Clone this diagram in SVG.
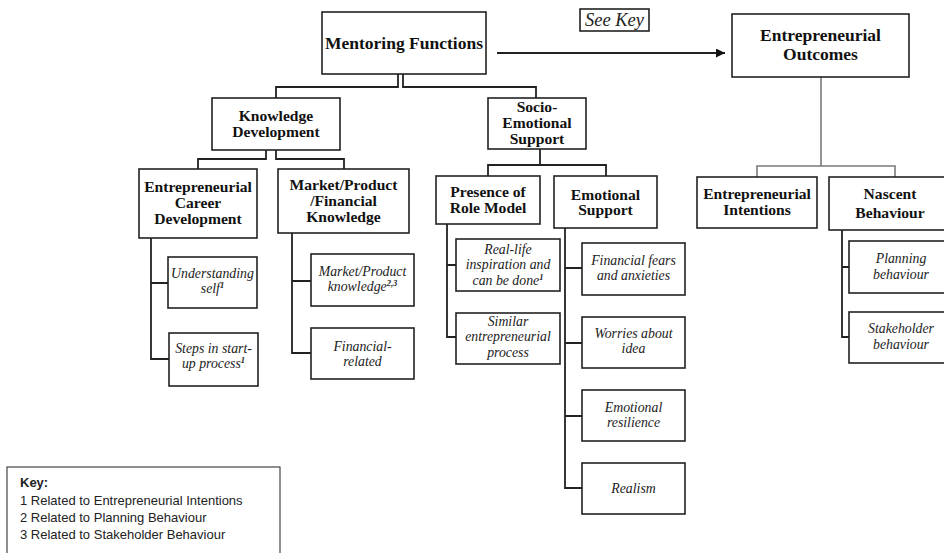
<svg xmlns="http://www.w3.org/2000/svg" width="944" height="553" viewBox="0 0 944 553">
<style>
  .box { fill: #fff; stroke: #222; stroke-width: 1.6; }
  .conn { fill: none; stroke: #222; stroke-width: 1.8; }
  .gray { fill: none; stroke: #7a7a7a; stroke-width: 1.6; }
  .t1 { font-family: "Liberation Serif", "Times New Roman", serif; font-weight: bold; font-size: 17.5px; text-anchor: middle; fill: #111; }
  .t2 { font-family: "Liberation Serif", "Times New Roman", serif; font-weight: bold; font-size: 15.6px; text-anchor: middle; fill: #111; }
  .ti { font-family: "Liberation Serif", "Times New Roman", serif; font-style: italic; font-size: 13.8px; text-anchor: middle; fill: #222; }
  .sup { font-size: 8.5px; font-weight: bold; }
  .key { font-family: "Liberation Sans", Arial, sans-serif; font-size: 13px; fill: #222; }
</style>
<defs>
  <marker id="ah" viewBox="0 0 10 10" refX="10" refY="5" markerWidth="11" markerHeight="9" markerUnits="userSpaceOnUse" orient="auto">
    <path d="M0,0 L10,5 L0,10 z" fill="#111"/>
  </marker>
</defs>

<g id="connectors">
  <path class="conn" d="M398,74 V87 H276 V98"/>
  <path class="conn" d="M403,74 V87 H536 V98"/>
  <path class="conn" d="M266,150 V159 H198 V169"/>
  <path class="conn" d="M276,150 V159 H344 V169"/>
  <path class="conn" d="M540,149 V165 M488,176 V165 H606 V176"/>
  <path class="conn" d="M151,238 V359 H169 M151,283 H168"/>
  <path class="conn" d="M292,233 V353 H311 M292,281 H311"/>
  <path class="conn" d="M447,224 V337 H456 M447,265 H456"/>
  <path class="conn" d="M565,228 V488 H582 M565,268 H582 M565,343 H582 M565,416 H582"/>
  <path class="gray" d="M821,77 V166 M757,177 V166 H895 V177"/>
  <path class="conn" d="M842,230 V337 H849 M842,267 H849"/>
  <path class="conn" d="M497,53 H725" marker-end="url(#ah)"/>
</g>

<g id="see-key">
  <rect class="box" x="580" y="9" width="69" height="22" stroke-width="1.2"/>
  <text x="614.5" y="26" font-family="Liberation Serif, serif" font-style="italic" font-size="18.5" text-anchor="middle" fill="#222">See Key</text>
</g>

<g id="mentoring-functions">
  <rect class="box" x="322" y="12" width="164" height="62"/>
  <text class="t1" x="404" y="49">Mentoring Functions</text>
</g>

<g id="entrepreneurial-outcomes">
  <rect class="box" x="732" y="14" width="177" height="63"/>
  <text class="t1" x="820.5" y="41" font-size="16.8">Entrepreneurial</text>
  <text class="t1" x="820.5" y="59.8" font-size="16.8">Outcomes</text>
</g>

<g id="knowledge-development">
  <rect class="box" x="212" y="98" width="128" height="52"/>
  <text class="t2" x="276" y="120.5">Knowledge</text>
  <text class="t2" x="276" y="136.5">Development</text>
</g>

<g id="socio-emotional-support">
  <rect class="box" x="488" y="98" width="98" height="51"/>
  <text class="t2" x="537" y="111.5">Socio-</text>
  <text class="t2" x="537" y="128">Emotional</text>
  <text class="t2" x="537" y="144">Support</text>
</g>

<g id="entrepreneurial-career-development">
  <rect class="box" x="139" y="169" width="118" height="69"/>
  <text class="t2" x="198" y="192">Entrepreneurial</text>
  <text class="t2" x="198" y="208">Career</text>
  <text class="t2" x="198" y="224">Development</text>
</g>

<g id="market-product-financial-knowledge">
  <rect class="box" x="278" y="169" width="131" height="64"/>
  <text class="t2" x="343.5" y="190">Market/Product</text>
  <text class="t2" x="343.5" y="206">/Financial</text>
  <text class="t2" x="343.5" y="221.5">Knowledge</text>
</g>

<g id="presence-of-role-model">
  <rect class="box" x="436" y="176" width="104" height="48"/>
  <text class="t2" x="488" y="197">Presence of</text>
  <text class="t2" x="488" y="213">Role Model</text>
</g>

<g id="emotional-support">
  <rect class="box" x="554" y="176" width="103" height="52"/>
  <text class="t2" x="605.5" y="199.5">Emotional</text>
  <text class="t2" x="605.5" y="215">Support</text>
</g>

<g id="entrepreneurial-intentions">
  <rect class="box" x="697" y="177" width="120" height="51"/>
  <text class="t2" x="757" y="199">Entrepreneurial</text>
  <text class="t2" x="757" y="215">Intentions</text>
</g>

<g id="nascent-behaviour">
  <rect class="box" x="829" y="177" width="132" height="53"/>
  <text class="t2" x="890" y="199">Nascent</text>
  <text class="t2" x="890" y="218">Behaviour</text>
</g>

<g id="understanding-self">
  <rect class="box" x="168" y="257" width="89" height="51"/>
  <text class="ti" x="212.5" y="278">Understanding</text>
  <text class="ti" x="212.5" y="293.3">self<tspan class="sup" dy="-5">1</tspan></text>
</g>

<g id="steps-in-start-up-process">
  <rect class="box" x="169" y="333" width="89" height="53"/>
  <text class="ti" x="213.5" y="352.5">Steps in start-</text>
  <text class="ti" x="213.5" y="367.8">up process<tspan class="sup" dy="-5">1</tspan></text>
</g>

<g id="market-product-knowledge">
  <rect class="box" x="311" y="254" width="103" height="52"/>
  <text class="ti" x="362.5" y="275.5">Market/Product</text>
  <text class="ti" x="362.5" y="290.8">knowledge<tspan class="sup" dy="-5">2,3</tspan></text>
</g>

<g id="financial-related">
  <rect class="box" x="311" y="328" width="103" height="51"/>
  <text class="ti" x="362.5" y="350.5">Financial-</text>
  <text class="ti" x="362.5" y="365.8">related</text>
</g>

<g id="real-life-inspiration">
  <rect class="box" x="456" y="239" width="104" height="52"/>
  <text class="ti" x="508" y="254">Real-life</text>
  <text class="ti" x="508" y="269.3">inspiration and</text>
  <text class="ti" x="508" y="284.6">can be done<tspan class="sup" dy="-5">1</tspan></text>
</g>

<g id="similar-entrepreneurial-process">
  <rect class="box" x="456" y="313" width="104" height="51"/>
  <text class="ti" x="508" y="326">Similar</text>
  <text class="ti" x="508" y="341.3">entrepreneurial</text>
  <text class="ti" x="508" y="356.6">process</text>
</g>

<g id="financial-fears">
  <rect class="box" x="582" y="243" width="103" height="52"/>
  <text class="ti" x="633.5" y="264.5">Financial fears</text>
  <text class="ti" x="633.5" y="279.8">and anxieties</text>
</g>

<g id="worries-about-idea">
  <rect class="box" x="582" y="317" width="103" height="51"/>
  <text class="ti" x="633.5" y="338">Worries about</text>
  <text class="ti" x="633.5" y="353.3">idea</text>
</g>

<g id="emotional-resilience">
  <rect class="box" x="582" y="390" width="103" height="51"/>
  <text class="ti" x="633.5" y="412">Emotional</text>
  <text class="ti" x="633.5" y="427.3">resilience</text>
</g>

<g id="realism">
  <rect class="box" x="582" y="463" width="103" height="51"/>
  <text class="ti" x="633.5" y="492.5">Realism</text>
</g>

<g id="planning-behaviour">
  <rect class="box" x="849" y="241" width="110" height="52"/>
  <text class="ti" x="901" y="263.2">Planning</text>
  <text class="ti" x="901" y="278.5">behaviour</text>
</g>

<g id="stakeholder-behaviour">
  <rect class="box" x="849" y="312" width="110" height="51"/>
  <text class="ti" x="901" y="333.2">Stakeholder</text>
  <text class="ti" x="901" y="348.5">behaviour</text>
</g>

<g id="key">
  <rect x="7" y="467" width="273" height="100" fill="#fff" stroke="#333" stroke-width="1.1"/>
  <text class="key" x="20" y="487" font-weight="bold">Key:</text>
  <text class="key" x="20" y="505">1 Related to Entrepreneurial Intentions</text>
  <text class="key" x="20" y="522">2 Related to Planning Behaviour</text>
  <text class="key" x="20" y="539">3 Related to Stakeholder Behaviour</text>
</g>
</svg>
